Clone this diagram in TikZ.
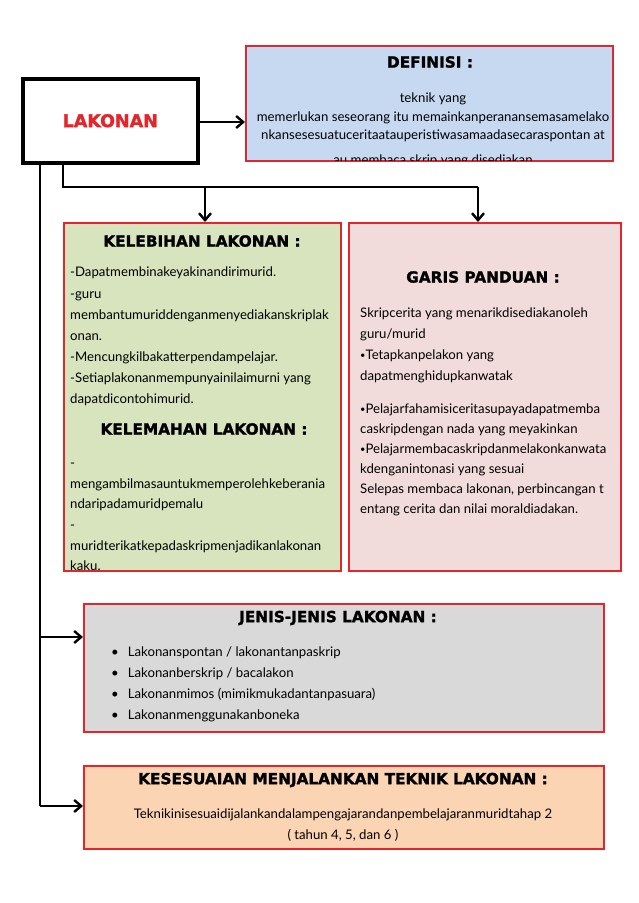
\documentclass[tikz,border=0pt]{standalone}
\usepackage{fontspec}
\usepackage{graphicx}
\setmainfont{Lato}
\newfontfamily\headfont{DejaVu Sans}[BoldFeatures={FakeBold=1.6}]
\usetikzlibrary{arrows.meta}
\definecolor{defblue}{HTML}{C6D9F1}
\definecolor{kebgreen}{HTML}{D7E4BD}
\definecolor{garpink}{HTML}{F2DCDB}
\definecolor{jengray}{HTML}{D9D9D9}
\definecolor{kesorange}{HTML}{FBD4B4}
\definecolor{boxred}{HTML}{E3262B}
\newcommand{\smallbul}{\raisebox{1pt}{\scalebox{0.7}{\textbullet}}}
\tikzset{
  panel/.style={draw=boxred, line width=1.8pt, anchor=north west, inner sep=0pt},
  heading/.style={font=\headfont\bfseries\fontsize{15.3}{17}\selectfont},
  body/.style={font=\fontsize{13.2}{21.1}\selectfont, align=left, inner sep=0pt, anchor=north west},
  bodyc/.style={font=\fontsize{13.2}{18.5}\selectfont, align=center, inner sep=0pt},
  conn/.style={line width=2.6pt, black},
  arr/.style={conn, -{Straight Barb[length=7pt,width=12pt,line width=2.4pt]}},
}
\begin{document}
\begin{tikzpicture}[x=1pt,y=-1pt]
\useasboundingbox (0,0) rectangle (638,903);
\fill[white] (0,0) rectangle (638,903);

% main box
\node[draw=black, line width=3.5pt, fill=white, anchor=north west, minimum width=175pt, minimum height=84pt, inner sep=0pt] (lak) at (21,77) {};
\node[text=boxred, font=\headfont\bfseries\fontsize{17.5}{19}\selectfont] (lakt) at (lak.center) {LAKONAN};

% definisi
\node[panel, fill=defblue, minimum width=367pt, minimum height=115pt] (def) at (245,45) {};
\node[heading] (deft) at (430,62) {DEFINISI :};
\begin{scope}
\clip (245,45) rectangle (612,160);
\node[bodyc, anchor=north] (defb) at (433,93) {teknik yang\\memerlukan seseorang itu memainkanperanansemasamelako\\nkansesesuatuceritaatauperistiwasamaadasecaraspontan at\\[6pt]au membaca skrip yang disediakan};
\end{scope}

% kelebihan
\node[panel, fill=kebgreen, minimum width=277pt, minimum height=348pt] (keb) at (63,222) {};
\node[heading] (kebt) at (202,241) {KELEBIHAN LAKONAN :};
\node[body] (kebb) at (70,267) {-Dapatmembinakeyakinandirimurid.\\-guru\\membantumuriddenganmenyediakanskriplak\\onan.\\-Mencungkilbakatterpendampelajar.\\-Setiaplakonanmempunyainilaimurni yang\\dapatdicontohimurid.};
\node[heading] (kelt) at (204,429) {KELEMAHAN LAKONAN :};
\node[body, font=\fontsize{13.2}{20.6}\selectfont] (kelb) at (70,463) {-\\mengambilmasauntukmemperolehkeberania\\ndaripadamuridpemalu\\-\\muridterikatkepadaskripmenjadikanlakonan\\kaku.};

% garis panduan
\node[panel, fill=garpink, minimum width=272pt, minimum height=348pt] (gar) at (348,222) {};
\node[heading] (gart) at (483,277) {GARIS PANDUAN :};
\node[body, font=\fontsize{13.2}{20.8}\selectfont] (garb1) at (360,308) {Skripcerita yang menarikdisediakanoleh\\guru/murid\\\smallbul Tetapkanpelakon yang\\dapatmenghidupkanwatak};
\node[body, font=\fontsize{13.2}{20}\selectfont] (garb2) at (360,404) {\smallbul Pelajarfahamisiceritasupayadapatmemba\\caskripdengan nada yang meyakinkan\\\smallbul Pelajarmembacaskripdanmelakonkanwata\\kdenganintonasi yang sesuai\\Selepas membaca lakonan, perbincangan t\\entang cerita dan nilai moraldiadakan.};

% jenis
\node[panel, fill=jengray, minimum width=520pt, minimum height=128pt] (jen) at (83,603) {};
\node[heading] (jent) at (338,618) {JENIS-JENIS LAKONAN :};
\node[body, font=\fontsize{13.2}{20.7}\selectfont] (jenb) at (111,647) {\textbullet\hspace{9pt}Lakonanspontan / lakonantanpaskrip\\\textbullet\hspace{9pt}Lakonanberskrip / bacalakon\\\textbullet\hspace{9pt}Lakonanmimos (mimikmukadantanpasuara)\\\textbullet\hspace{9pt}Lakonanmenggunakanboneka};

% kesesuaian
\node[panel, fill=kesorange, minimum width=520pt, minimum height=83pt] (kes) at (83,765) {};
\node[heading] (kest) at (343,780) {KESESUAIAN MENJALANKAN TEKNIK LAKONAN :};
\node[bodyc, anchor=north, font=\fontsize{13.2}{21}\selectfont] (kesb) at (343,809) {Teknikinisesuaidijalankandalampengajarandanpembelajaranmuridtahap 2\\( tahun 4, 5, dan 6 )};

% connectors
\coordinate (j1) at (63,187);
\coordinate (j2) at (205,187);
\coordinate (j3) at (478,187);
\coordinate (v0) at (40,161);
\coordinate (v2) at (40,637);
\coordinate (v3) at (40,806);
\draw[arr] (lak.east |- 0,122) -- (def.west |- 0,122);
\draw[conn] (lak.south -| j1) -- (j1) -- (j3);
\draw[arr] (j2) -- (j2 |- keb.north);
\draw[arr] (j3) -- (j3 |- gar.north);
\draw[conn] (lak.south -| v0) -- (v3);
\draw[arr] (v2) -- (v2 -| jen.west);
\draw[arr] (v3) -- (v3 -| kes.west);
\end{tikzpicture}
\end{document}
